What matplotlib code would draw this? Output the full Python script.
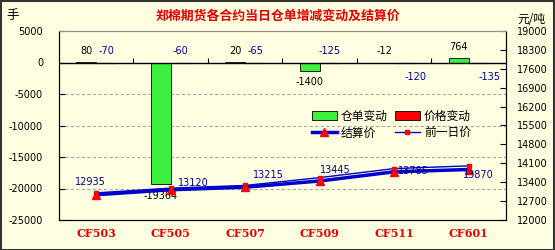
import numpy as np
import matplotlib
matplotlib.use('Agg')
import matplotlib.pyplot as plt
from matplotlib.patches import Patch, Rectangle
from matplotlib.lines import Line2D

# data
contracts = ['CF503', 'CF505', 'CF507', 'CF509', 'CF511', 'CF601']
warrant_chg = [80, -19364, 20, -1400, -12, 764]      # 仓单变动 (手)
price_chg = [-70, -60, -65, -125, -120, -135]        # 价格变动 (元/吨)
settle = [12935, 13120, 13215, 13445, 13785, 13870]  # 结算价
prev_settle = [13005, 13180, 13280, 13570, 13905, 14005]  # 前一日价

left_ticks = np.arange(-25000, 5001, 5000)
right_ticks = np.arange(12000, 19001, 700)

# where the labels sit (1 above, -1 below), as on the original
warrant_side = [1, -1, 1, -1, 1, 1]
price_side = [1, 1, 1, 1, -1, -1]
settle_off = [(-4, 9.5), (16, 5), (16.5, 8.5), (11, 8), (14, 0.5), (7, -4)]

cjk = ['Noto Sans CJK SC', 'DejaVu Sans']
bg = '#FFFFE1'
green = '#3CF03C'
blue = '#0000CC'
lblue = '#000099'

plt.rcParams['font.family'] = ['DejaVu Sans', 'Noto Sans CJK SC']

fig = plt.figure(figsize=(5.55, 2.5), dpi=100)
fig.patch.set_facecolor(bg)
ax = fig.add_axes([0.1063, 0.12, 0.8054, 0.756])
ax.set_facecolor(bg)

x = np.arange(len(contracts))
w = 0.27
ax.bar(x - w / 2, warrant_chg, w, color=green, edgecolor='black', linewidth=0.6, zorder=3)
ax.bar(x + w / 2, price_chg, w, color='red', edgecolor='black', linewidth=0.8, zorder=3)

ax.set_xlim(-0.5, len(contracts) - 0.5)
ax.set_ylim(-25000, 5000)
ax.set_yticks(left_ticks)
ax.set_yticklabels([str(v) for v in left_ticks], fontsize=7)
ax.tick_params(axis='y', direction='in', length=4, pad=11.5, width=0.8)
ax.set_xticks(x)
ax.set_xticklabels(contracts, fontsize=8, color='#E00000', fontweight='bold', family='DejaVu Serif')
ax.tick_params(axis='x', length=0, pad=6)

# grid, zero line and category ticks on the zero line
for v in left_ticks[1:-2]:
    ax.axhline(v, color='#A8A8A8', lw=0.8, ls=(0, (3, 2)), zorder=1)
ax.axhline(0, color='black', lw=1, zorder=4)
ax.vlines(x[:-1] + 0.5, 0, 700, color='black', lw=0.8, zorder=4)

for s in ['left', 'bottom']:
    ax.spines[s].set_color('black')
ax.spines['top'].set_color('#909090')

# bar labels
for i in range(len(contracts)):
    v = warrant_chg[i]
    ax.annotate(str(v), (x[i] - w / 2, v), xytext=(0, 8 * warrant_side[i]),
                textcoords='offset points', ha='center', va='center',
                fontsize=7, color='black', zorder=6)
    p = price_chg[i]
    dx = 0 if price_side[i] > 0 else 8
    ax.annotate(str(p), (x[i] + w / 2, 0 if price_side[i] > 0 else p),
                xytext=(dx, 8 * price_side[i] if price_side[i] > 0 else -10),
                textcoords='offset points', ha='center', va='center',
                fontsize=7, color=lblue, zorder=6)

# price lines on the right axis
ax2 = ax.twinx()
ax2.set_ylim(12000, 19000)
ax2.set_yticks(right_ticks)
ax2.set_yticklabels([str(v) for v in right_ticks], fontsize=7)
ax2.tick_params(axis='y', direction='in', length=4, pad=8, width=0.8)
ax2.spines['top'].set_color('#909090')
ax2.spines['right'].set_color('black')

ax2.plot(x, prev_settle, color=blue, lw=1, marker='s', ms=3,
         mfc='red', mec='red', zorder=5)
ax2.plot(x, settle, color=blue, lw=2.5, marker='^', ms=6,
         mfc='red', mec='red', zorder=5)

for i, v in enumerate(settle):
    ax2.annotate(str(v), (x[i], v), xytext=settle_off[i], textcoords='offset points',
                 ha='center', va='center', fontsize=7, color=lblue, zorder=6)

handles = [Patch(facecolor=green, edgecolor='black', lw=0.6),
           Line2D([], [], color=blue, lw=2.5, marker='^', ms=6, mfc='red', mec='red'),
           Patch(facecolor='red', edgecolor='black', lw=0.6),
           Line2D([], [], color=blue, lw=1, marker='s', ms=3, mfc='red', mec='red')]
labels = ['仓单变动', '结算价', '价格变动', '前一日价']
ax2.legend(handles, labels, ncol=2, loc='upper left', bbox_to_anchor=(0.566, 0.585),
           frameon=False, prop={'family': cjk, 'size': 8.5}, handlelength=2.1,
           handleheight=0.8, handletextpad=0.35, columnspacing=0.6, labelspacing=0.35,
           borderaxespad=0, borderpad=0)

# titles and units
fig.text(0.5, 0.936, '郑棉期货各合约当日仓单增减变动及结算价', ha='center', va='center',
         fontsize=9.3, fontweight='bold', color='#E00000', family=cjk)
fig.text(0.0225, 0.936, '手', ha='center', va='center', fontsize=9, family=cjk)
fig.text(0.957, 0.922, '元/吨', ha='center', va='center', fontsize=8.5, family=cjk)

fig.patches.append(Rectangle((0.001, 0.002), 0.997, 0.995, transform=fig.transFigure,
                             fill=False, edgecolor='#333333', lw=1.5))

fig.savefig('out.png', dpi=100, facecolor=bg)
